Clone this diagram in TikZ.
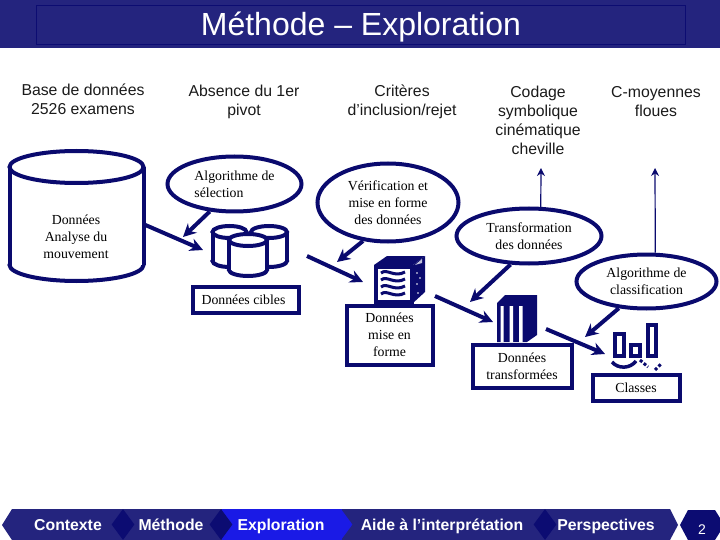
\documentclass[tikz,border=0pt]{standalone}
\usepackage{fontspec}
\setmainfont{Liberation Serif}
\setsansfont{Liberation Sans}
\usetikzlibrary{positioning, shapes.geometric, arrows.meta}
\definecolor{NavyLine}{HTML}{0A0A6E}
\definecolor{BandBlue}{HTML}{24247E}
\definecolor{TabBlue}{HTML}{1A1AE6}
\definecolor{DiamondBlue}{HTML}{0C0C72}
\definecolor{LabelGrey}{HTML}{1A1A1A}
\newcommand{\drawdrum}[6]{%
    \draw[drumline, fill=white] (#2,#5) ellipse [x radius=#4pt, y radius=#6pt];
    \fill[white] (#2-#4,#3) rectangle (#2+#4,#5);
    \draw[drumline] (#2-#4,#3) -- (#2-#4,#5) (#2+#4,#3) -- (#2+#4,#5);
    \draw[drumline, fill=white] (#2,#3) ellipse [x radius=#4pt, y radius=#6pt];
    \node (#1) at (#2,{(#3+#5)/2}) [minimum width={2*#4*1pt}, minimum height={(#5-#3+2*#6)*1pt}, inner sep=0pt] {};
}

\begin{document}
\begin{tikzpicture}[
    x=1pt, y=-1pt,
    toplabel/.style={align=center, font=\sffamily\fontsize{15.8}{19}\selectfont, text=LabelGrey, inner sep=0pt},
    serif/.style={align=center, font=\fontsize{13.8}{17}\selectfont, text=black, inner sep=0pt},
    bubble/.style={ellipse, draw=NavyLine, fill=white, line width=4pt, inner sep=0pt, font=\fontsize{13.8}{17}\selectfont},
    databox/.style={rectangle, draw=NavyLine, fill=white, line width=4pt, inner sep=0pt, align=center, font=\fontsize{13.8}{17}\selectfont},
    drumline/.style={draw=NavyLine, line width=4pt},
    flow/.style={-{Stealth[length=13pt, width=13pt]}, line width=4pt, color=NavyLine},
    thinflow/.style={-{Stealth[length=8pt, width=8pt]}, line width=1.2pt, color=NavyLine},
    tablabel/.style={anchor=base, font=\sffamily\bfseries\fontsize{15.8}{18}\selectfont, text=white, inner sep=0pt},
    diamondtab/.style={diamond, fill=DiamondBlue, minimum width=23pt, minimum height=31pt, inner sep=0pt}
]
    \useasboundingbox (0,0) rectangle (720,540);

    \fill[BandBlue] (0,0) rectangle (720,48);
    \draw[DiamondBlue, line width=0.8pt] (36,5) rectangle (685,44);
    \node (title) at (361,36) [anchor=base, font=\sffamily\fontsize{32}{34}\selectfont, text=white, inner sep=0pt] {Méthode – Exploration};

    \node (lbase) at (83,99) [toplabel] {Base de données\\2526 examens};
    \node (labsence) at (244,102) [toplabel] {Absence du 1er\\pivot};
    \node (lcriteres) at (402,102) [toplabel] {Critères\\d’inclusion/rejet};
    \node (lcodage) at (538,120) [toplabel] {Codage\\symbolique\\cinématique\\cheville};
    \node (lfloues) at (656,102) [toplabel] {C-moyennes\\floues};

    \drawdrum{base}{76.5}{167}{67}{265}{16}
    \node (lmouv) at (76,237) [serif] {Données\\Analyse du\\mouvement};

    \node (algo) at (234.5,184) [bubble, minimum width=134pt, minimum height=55pt, align=left] {Algorithme de\\sélection};
    \node (verif) at (388,202.5) [bubble, minimum width=141pt, minimum height=78pt, align=center] {Vérification et\\mise en forme\\des données};
    \node (transfo) at (529,236) [bubble, minimum width=145pt, minimum height=55pt, align=center] {Transformation\\des données};
    \node (classif) at (646.5,281.5) [bubble, minimum width=140pt, minimum height=54pt, align=center] {Algorithme de\\classification};

    \drawdrum{drumA}{229.5}{232}{17}{261}{6}
    \drawdrum{drumB}{269}{232}{18}{261}{6}
    \drawdrum{drumC}{248}{240}{19}{270}{6}
    \node (cibles) [databox, below=9pt of drumC, minimum width=106pt, minimum height=26pt, xshift=-2.5pt] {Données cibles\hspace*{4pt}};

    \fill[NavyLine] (374,265) -- (387,256) -- (425,256) -- (413,265) -- cycle;
    \fill[NavyLine] (413,265) -- (425,256) -- (425,292) -- (413,303) -- cycle;
    \draw[NavyLine, line width=4pt, fill=white] (375.5,266.5) rectangle (411.5,302);
    \fill[white!75!NavyLine] (415,265) -- (422,259) -- (422,263) -- cycle;
    \fill[white] (417,273) circle (0.8) (417,284) circle (0.8) (420,278) circle (0.8) (418,293) circle (0.8);
    \foreach \wy in {273,280,287,294}
        \draw[NavyLine, line width=3pt] (381,\wy) .. controls (387,\wy-5) and (394,\wy+5) .. (405,\wy-1);
    \node (forme) at (389.5,335) [databox, minimum width=86pt, minimum height=59pt] {Données\\mise en\\forme};

    \fill[NavyLine] (497,303) -- (505,295) -- (537,295) -- (537,335) -- (527,342) -- (497,342) -- cycle;
    \fill[white] (500.5,306) rectangle (503.5,342) (509.5,306) rectangle (513,342) (519,306) rectangle (522.5,342);
    \node (transformees) at (522,366.5) [databox, minimum width=99pt, minimum height=43pt] {Données\\transformées};

    \draw[NavyLine, line width=4pt] (614.5,333.5) rectangle (623.5,356);
    \draw[NavyLine, line width=4pt] (631,345) rectangle (640,356);
    \draw[NavyLine, line width=4pt] (648,324.5) rectangle (656,356);
    \draw[NavyLine, line width=3.5pt] (612,362) .. controls (618,369) and (630,369) .. (636,361);
    \draw[NavyLine, line width=3pt, dash pattern=on 3pt off 2pt] (640,360) -- (648,367);
    \draw[NavyLine, line width=3pt, dash pattern=on 3pt off 2pt] (655,370) -- (661,364);
    \node (classes) at (636,387.5) [databox, minimum width=87pt, minimum height=26pt] {Classes};

    \coordinate (drumIn) at (203,250);
    \coordinate (algoEnd) at (183,237);
    \coordinate (drumOut) at (307,256);
    \coordinate (cubeIn) at (363,282);
    \coordinate (verifEnd) at (337,262);
    \coordinate (cubeOut) at (435,296);
    \coordinate (serverIn) at (493,322);
    \coordinate (transfoEnd) at (470,302);
    \coordinate (serverOut) at (546,329);
    \coordinate (barsIn) at (605,354);
    \coordinate (classifEnd) at (585,337);
    \coordinate (codageEnd) at (541,168);
    \coordinate (flouesEnd) at (655,168);

    \draw[flow] (base.-7) -- (drumIn);
    \draw[flow] (algo.-132) -- (algoEnd);
    \draw[flow] (drumOut) -- (cubeIn);
    \draw[flow] (verif.-123) -- (verifEnd);
    \draw[flow] (cubeOut) -- (serverIn);
    \draw[flow] (transfo.-123) -- (transfoEnd);
    \draw[flow] (serverOut) -- (barsIn);
    \draw[flow] (classif.-136) -- (classifEnd);
    \draw[thinflow] (transfo.68) -- (codageEnd);
    \draw[thinflow] (classif.73) -- (flouesEnd);

    \fill[BandBlue] (2,525) -- (12,509) -- (670,509) -- (678,525) -- (670,540) -- (12,540) -- cycle;
    \fill[TabBlue] (222,509) rectangle (342,540);
    \node (dmA) at (123,524.5) [diamondtab] {};
    \node (dmB) at (221,524.5) [diamondtab] {};
    \node (dmC) at (341,524.5) [diamondtab, fill=TabBlue] {};
    \node (dmD) at (545,524.5) [diamondtab] {};
    \fill[DiamondBlue] (680,525) -- (688,510) -- (715,510) -- (720,518) -- (720,532) -- (715,540) -- (688,540) -- cycle;

    \node (tabA) at (68,530) [tablabel] {Contexte};
    \node (tabB) at (171,530) [tablabel] {Méthode};
    \node (tabC) at (281,530) [tablabel] {Exploration};
    \node (tabD) at (442,530) [tablabel] {Aide à l’interprétation};
    \node (tabE) at (606,530) [tablabel] {Perspectives};
    \node (page) at (702,534) [tablabel, font=\sffamily\fontsize{14}{16}\selectfont] {2};
\end{tikzpicture}
\end{document}
